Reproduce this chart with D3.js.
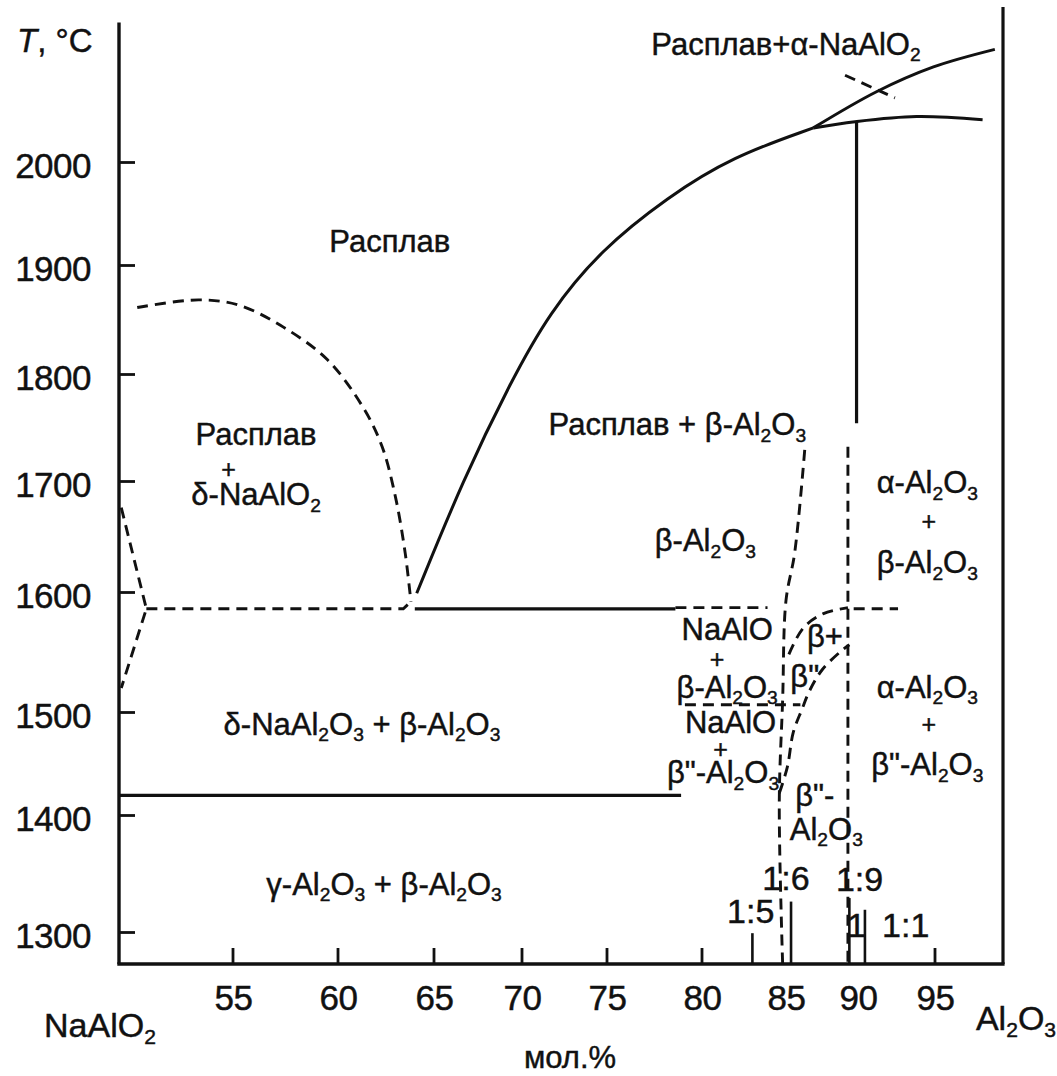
<!DOCTYPE html>
<html><head><meta charset="utf-8">
<script src="https://cdn.jsdelivr.net/npm/d3@7"></script>
<style>body{margin:0;background:#fff} text{font-family:"Liberation Sans",Arial,sans-serif;fill:#111;stroke:#111;stroke-width:0.45px}</style>
</head><body>
<svg id="chart" width="1057" height="1076"></svg>
<script>
// ---------- data (mol.% Al2O3, T in °C) ----------
const xTickLabels = [55,60,65,70,75,80,85,90,95];
const xTickMarks  = [55,60,65,70,75,80,95];
const yTickLabels = [1300,1400,1500,1600,1700,1800,1900,2000];

const liquidusBeta   = [[64.1,1599],[66.65,1701],[69.4,1794],[71.6,1856],[74.6,1914],[78.2,1966],[81.8,2005],[86.9,2033]];
const liquidusAlpha  = [[86.9,2033],[91.2,2068],[94.9,2092],[99.4,2109]];
const upperFlat      = [[86.9,2033],[89.8,2039],[93.8,2044],[98.5,2041]];
const crossDash      = [[89.1,2084],[92.4,2062]];
const vertSolid      = [[89.9,2039],[89.9,1754]];
const vertDash19     = [[89.3,1732],[89.3,1273]];
const betaBoundary   = [[86.3,1729],[85.6,1635],[85.0,1593],[84.8,1510],[84.6,1413],[84.8,1273]];
const dome           = [[50.8,1861],[53.5,1868],[55.3,1863],[57.4,1843],[59.5,1813],[61.3,1769],[62.3,1732],[63.0,1685],[63.5,1635],[63.75,1599],[63.8,1592]];
const eutecticDashL  = [[51.2,1586],[63.4,1586],[63.8,1592]];
const eutecticSolid  = [[64.0,1586],[78.6,1586]];
const eutecticDashR  = [[78.6,1587],[83.9,1587]];
const eutecticDashR2 = [[89.7,1586],[92.6,1586]];
const leftV          = [[50.1,1676],[51.2,1586],[50.1,1520]];
const solid1419      = [[50,1419],[78.9,1419]];
const dash1506       = [[79.1,1506],[86.0,1506]];
const bbUpper        = [[85.2,1548],[86.2,1570],[87.6,1582],[89.3,1587]];
const bbLower        = [[84.6,1421],[85.1,1447],[85.5,1480],[86.1,1502],[86.65,1518],[87.5,1535],[88.75,1550],[89.4,1556]];
const compLines      = [[83.0,1299],[85.35,1326],[89.4,1329],[90.45,1319]];   // x, top T

const regionLabels = [
  ["Расплав+α-NaAlO_2", 85.0, 2104],
  ["Расплав", 62.7, 1913],
  ["Расплав", 56.1, 1734],
  ["+", 54.8, 1703],
  ["δ-NaAlO_2", 56.1, 1678],
  ["Расплав + β-Al_2O_3", 78.7, 1743],
  ["β-Al_2O_3", 80.2, 1637],
  ["α-Al_2O_3", 94.5, 1689],
  ["+", 94.6, 1656],
  ["β-Al_2O_3", 94.5, 1617],
  ["NaAlO", 81.5, 1560],
  ["+", 80.9, 1537],
  ["β-Al_2O_3", 81.5, 1512],
  ["NaAlO", 81.7, 1480],
  ["+", 81.1, 1455],
  ["β\"-Al_2O_3", 81.25, 1431],
  ["β+", 87.7, 1554],
  ["β\"", 86.3, 1521],
  ["β\"-", 87.0, 1409],
  ["Al_2O_3", 87.8, 1379],
  ["α-Al_2O_3", 94.5, 1512],
  ["+", 94.6, 1480],
  ["β\"-Al_2O_3", 94.5, 1439],
  ["δ-NaAl_2O_3 + β-Al_2O_3", 61.25, 1478],
  ["γ-Al_2O_3 + β-Al_2O_3", 62.4, 1332],
  ["1:5", 82.9, 1308],
  ["1:6", 85.0, 1336],
  ["1:9", 90.1, 1335],
  ["1", 89.9, 1296],
  ["1:1", 93.1, 1296]
];

// ---------- scales ----------
const svg = d3.select("#chart");
const x = d3.scaleLinear()
  .domain([50,55,60,65,70,75,80,85,90,95,100])
  .range([119,233,338,434,522,607,702,786,858,935,1003]);
const y = d3.scaleLinear()
  .domain([1273,1300,1400,1500,1600,1700,1800,1900,2000,2150])
  .range([964,932,815,712,592,481,374,265,162,7]);

const ink = "#111";
const line = d3.line().x(d=>x(d[0])).y(d=>y(d[1]));
const smooth = d3.line().x(d=>x(d[0])).y(d=>y(d[1])).curve(d3.curveCatmullRom.alpha(0.5));
const basis = d3.line().x(d=>x(d[0])).y(d=>y(d[1])).curve(d3.curveBasis);

function draw(data, gen, dashed, w) {
  svg.append("path").attr("d", gen(data)).attr("fill","none").attr("stroke",ink)
    .attr("stroke-width", w || 2.9)
    .attr("stroke-dasharray", dashed ? "11,7" : null);
}

// frame
svg.append("line").attr("x1",x(50)).attr("x2",x(50)).attr("y1",y(1273)).attr("y2",y(2135)).attr("stroke",ink).attr("stroke-width",3.4);
svg.append("line").attr("x1",x(100)).attr("x2",x(100)).attr("y1",y(1273)).attr("y2",y(2150)).attr("stroke",ink).attr("stroke-width",3.2);
svg.append("line").attr("x1",x(50)-1.7).attr("x2",x(100)+1.6).attr("y1",y(1273)).attr("y2",y(1273)).attr("stroke",ink).attr("stroke-width",3.4);

// y axis
const yAxis = d3.axisLeft(y).tickValues(yTickLabels).tickFormat(d3.format("d"))
  .tickSizeInner(-16).tickSizeOuter(0).tickPadding(28);
const gy = svg.append("g").attr("transform",`translate(${x(50)},0)`).call(yAxis);
gy.select(".domain").remove();
gy.selectAll(".tick line").attr("stroke",ink).attr("stroke-width",2.8);
gy.selectAll(".tick text").attr("font-size",35).attr("dy","0.45em").attr("letter-spacing","-0.5")
  .style("font-family","Liberation Sans, Arial, sans-serif").attr("fill",ink);

// x axis
const xAxis = d3.axisBottom(x).tickValues(xTickLabels).tickFormat(d3.format("d")).tickSize(0).tickPadding(21);
const gx = svg.append("g").attr("transform",`translate(0,${y(1273)})`).call(xAxis);
gx.select(".domain").remove();
gx.selectAll(".tick text").attr("font-size",35).attr("letter-spacing","-0.5")
  .style("font-family","Liberation Sans, Arial, sans-serif").attr("fill",ink);
svg.selectAll(".xtick").data(xTickMarks).enter().append("line")
  .attr("x1",d=>x(d)).attr("x2",d=>x(d)).attr("y1",y(1273)).attr("y2",y(1273)-16)
  .attr("stroke",ink).attr("stroke-width",2.8);

// phase lines
draw(liquidusBeta, basis, false, 3);
draw(liquidusAlpha, smooth, false, 3);
draw(upperFlat, smooth, false, 3);
draw(crossDash, line, true);
draw(vertSolid, line, false, 3.2);
draw(vertDash19, line, true);
draw(betaBoundary, smooth, true);
draw(dome, smooth, true);
draw(eutecticDashL, line, true);
draw(eutecticSolid, line, false, 3.2);
draw(eutecticDashR, line, true);
draw(eutecticDashR2, line, true);
draw(leftV, line, true);
draw(solid1419, line, false, 3.2);
draw(dash1506, line, true);
draw(bbUpper, smooth, true);
draw(bbLower, smooth, true);
compLines.forEach(c => draw([[c[0],1273],[c[0],c[1]]], line, false, 2.6));

// labels with subscripts
function fillText(t, txt, size) {
  const parts = txt.split(/(_\d)/).filter(p => p.length);
  let sub = false;
  parts.forEach(p => {
    if (/^_\d$/.test(p)) {
      t.append("tspan").attr("font-size", size*0.62).attr("dy", sub ? 0 : size*0.22).text(p[1]);
      sub = true;
    } else {
      t.append("tspan").attr("dy", sub ? -size*0.22 : 0).text(p);
      sub = false;
    }
  });
}
function addLabel(txt, xv, tv, size) {
  const t = svg.append("text").attr("x", x(xv)).attr("y", y(tv))
    .attr("text-anchor","middle").attr("font-size", size);
  fillText(t, txt, size);
}
regionLabels.forEach(l => {
  const size = /^1/.test(l[0]) ? 34 : (l[0] === "+" ? 25 : 31);
  addLabel(l[0], l[1], l[2], size);
});

// axis titles
const tl = svg.append("text").attr("x",17).attr("y",52).attr("font-size",33);
tl.append("tspan").attr("font-style","italic").text("T");
tl.append("tspan").text(", °C");
function addLabelPx(txt, px, py, size) {
  const t = svg.append("text").attr("x", px).attr("y", py).attr("text-anchor","middle").attr("font-size", size);
  fillText(t, txt, size);
}
addLabelPx("NaAlO_2", 100, 1037, 34);
addLabelPx("Al_2O_3", 1016, 1030, 34);
addLabelPx("мол.%", 570, 1068, 31);
</script>
</body></html>
